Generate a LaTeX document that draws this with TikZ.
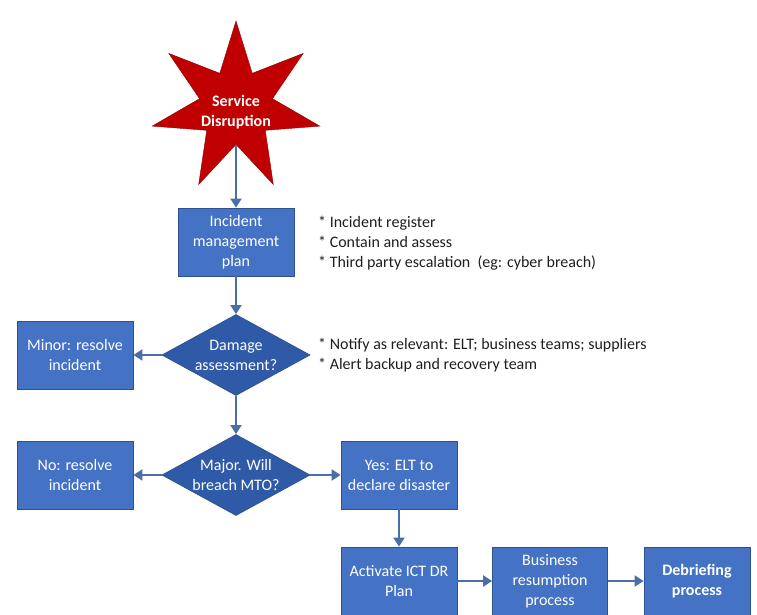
\documentclass[tikz,border=0pt]{standalone}
\usepackage{fontspec}
\setmainfont{Carlito}
\usetikzlibrary{shapes.geometric,arrows.meta}
\definecolor{boxblue}{HTML}{4472C4}
\definecolor{boxedge}{HTML}{2F528F}
\definecolor{diablue}{HTML}{2F5AA8}
\definecolor{starred}{HTML}{C00000}
\definecolor{staredge}{HTML}{8C0000}
\definecolor{flowline}{HTML}{4A6EA6}
\definecolor{notetext}{HTML}{1E1E1E}
\begin{document}
\begin{tikzpicture}[x=1pt,y=-1pt,
    every node/.style={font=\fontsize{16}{20}\selectfont},
    procbox/.style={rectangle,fill=boxblue,draw=boxedge,line width=.8pt,text=white,align=center,
      minimum width=116pt,minimum height=68pt,inner sep=1pt},
    decision/.style={diamond,aspect=1.83,fill=diablue,draw=boxedge,line width=.8pt,text=white,
      align=center,minimum width=148pt,minimum height=81pt,inner sep=0pt},
    flow/.style={draw=flowline,line width=2pt,-{Triangle[width=11pt,length=9pt]}},
    note/.style={anchor=west,align=left,text=notetext,inner sep=0pt}]
    \useasboundingbox (0,0) rectangle (757,615);

    % The trigger
    \node[star,star points=7,star point ratio=2.3,minimum size=172pt,inner sep=0pt,
      fill=starred,draw=staredge] (disr) at (236,107) {};
    \node[text=white,align=center,font=\fontsize{16}{20}\selectfont\bfseries] (disrtext) at (236,112) {Service\\Disruption};

    % Boxes and decisions
    \node[procbox] (imp) at (236,242) {Incident\\management\\plan};
    \node[decision] (damage) at (236,355) {Damage\\assessment?};
    \node[procbox] (minor) at (75,355) {Minor: resolve\\incident};
    \node[decision] (major) at (236,475) {Major. Will\\breach MTO?};
    \node[procbox] (nores) at (75,475) {No: resolve\\incident};
    \node[procbox] (yesdis) at (399,475) {Yes: ELT to\\declare disaster};
    \node[procbox] (ictdr) at (399,581) {Activate ICT DR\\Plan};
    \node[procbox,minimum width=115pt] (busres) at (550,581) {Business\\resumption\\process};
    \node[procbox,minimum width=106pt,font=\fontsize{16}{20}\selectfont\bfseries] (debrief) at (697,581) {Debriefing\\process};

    % Side notes
    \node[note] (impnotes) at (318,243) {* Incident register\\* Contain and assess\\* Third party escalation~ (eg: cyber breach)};
    \node[note] (damnotes) at (318,355) {* Notify as relevant: ELT; business teams; suppliers\\* Alert backup and recovery team};

    % Connectors
    \draw[flow] (disr) -- (imp);
    \draw[flow] (imp) -- (damage);
    \draw[flow] (damage) -- (minor);
    \draw[flow] (damage) -- (major);
    \draw[flow] (major) -- (nores);
    \draw[flow] (major) -- (yesdis);
    \draw[flow] (yesdis) -- (ictdr);
    \draw[flow] (ictdr) -- (busres);
    \draw[flow] (busres) -- (debrief);
\end{tikzpicture}
\end{document}
